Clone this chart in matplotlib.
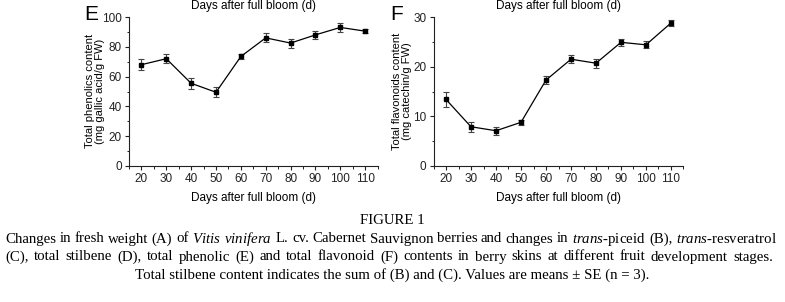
import matplotlib.pyplot as plt
from matplotlib.ticker import MultipleLocator

# Days after full bloom
days = [20, 30, 40, 50, 60, 70, 80, 90, 100, 110]

# Panel E: total phenolics (mg gallic acid/g FW)
phenolics = [68.0, 72.0, 55.5, 49.5, 73.5, 86.0, 82.5, 88.0, 93.0, 90.5]
phenolics_se = [3.5, 3.0, 3.5, 3.5, 1.5, 3.0, 3.0, 2.5, 3.0, 1.5]

# Panel F: total flavonoids (mg catechin/g FW)
flavonoids = [13.4, 7.9, 7.1, 8.8, 17.3, 21.5, 20.7, 24.9, 24.4, 28.8]
flavonoids_se = [1.5, 1.0, 0.8, 0.5, 0.8, 0.8, 0.9, 0.7, 0.7, 0.6]

caption_1 = (r"Changes in fresh weight (A) of $\it{Vitis}$ $\it{vinifera}$ L. cv. Cabernet Sauvignon "
             r"berries and changes in $\it{trans}$-piceid (B), $\it{trans}$-resveratrol")
caption_2 = ("(C), total stilbene (D), total phenolic (E) and total flavonoid (F) contents in "
             "berry skins at different fruit development stages.")
caption_3 = "Total stilbene content indicates the sum of (B) and (C). Values are means \u00b1 SE (n = 3)."

plt.rcParams["font.family"] = ["Liberation Sans", "DejaVu Sans"]
plt.rcParams["mathtext.fontset"] = "custom"
plt.rcParams["mathtext.rm"] = "Liberation Serif"
plt.rcParams["mathtext.it"] = "Liberation Serif:italic"

W, H = 785, 302
fig = plt.figure(figsize=(W / 100, H / 100), dpi=100)


def fx(px):
    return px / W


def fy(px):
    return 1 - px / H


def draw_panel(rect, y, err, ymax, ystep, ylabel, letter, letter_x, ylabel_x):
    ax = fig.add_axes(rect)
    ax.errorbar(days, y, yerr=err, color="black", lw=0.9, marker="s", ms=3.2,
                ecolor="#444444", elinewidth=0.8, capsize=2.2, capthick=0.8)
    ax.set_xlim(15, 115)
    ax.set_ylim(0, ymax)
    ax.set_xticks(days)
    ax.xaxis.set_minor_locator(plt.FixedLocator([d + 5 for d in [10] + days]))
    ax.yaxis.set_major_locator(MultipleLocator(ystep))
    ax.yaxis.set_minor_locator(MultipleLocator(ystep / 2))
    for s in ("top", "right"):
        ax.spines[s].set_visible(False)
    for s in ("left", "bottom"):
        ax.spines[s].set_linewidth(0.8)
        ax.spines[s].set_color("#222222")
    ax.tick_params(which="major", length=3, width=0.8, labelsize=8.5, pad=2, colors="#222222")
    ax.tick_params(which="minor", length=1.8, width=0.7, colors="#222222")
    ax.set_xlabel("Days after full bloom (d)", fontsize=8.5, labelpad=5)
    fig.text(fx(ylabel_x), fy(91), ylabel, rotation=90, ha="center", va="center",
             fontsize=8, linespacing=0.95)
    fig.text(fx(letter_x), fy(15), letter, fontsize=15, ha="center", va="center")
    # cut-off axis label from the panel above
    x0, x1 = rect[0], rect[0] + rect[2]
    fig.text((x0 + x1) / 2, fy(6), "Days after full bloom (d)", fontsize=8.5,
             ha="center", va="center")
    return ax


def justify(line, y_px, x0_px, x1_px, size):
    # spread the words of one caption line over a fixed width
    words = line.split(" ")
    texts = [fig.text(0, fy(y_px), w, ha="left", va="center", fontsize=size,
                      family="Liberation Serif") for w in words]
    r = fig.canvas.get_renderer()
    widths = [t.get_window_extent(r).width for t in texts]
    gap = (x1_px - x0_px - sum(widths)) / (len(words) - 1)
    x = x0_px
    for t, w in zip(texts, widths):
        t.set_x(fx(x))
        x += w + gap


top, bottom = 17, 166
ax_e = draw_panel([fx(129), fy(bottom), fx(377.6 - 129), (bottom - top) / H],
                  phenolics, phenolics_se, 100, 20,
                  "Total phenolics content\n(mg gallic acid/g FW)", "E", 91, 95)
ax_f = draw_panel([fx(433.5), fy(bottom), fx(250), (bottom - top) / H],
                  flavonoids, flavonoids_se, 30, 10,
                  "Total flavonoids content\n(mg catechin/g FW)", "F", 397, 402)

cap_size = 10.7
fig.text(0.5, fy(220), "FIGURE 1", ha="center", va="center", fontsize=cap_size,
         family="Liberation Serif")
justify(caption_1, 239, 5, 777, cap_size)
justify(caption_2, 257, 5, 773, cap_size)
fig.text(0.5, fy(275), caption_3, ha="center", va="center", fontsize=cap_size,
         family="Liberation Serif")

fig.savefig("out.png", dpi=100)
